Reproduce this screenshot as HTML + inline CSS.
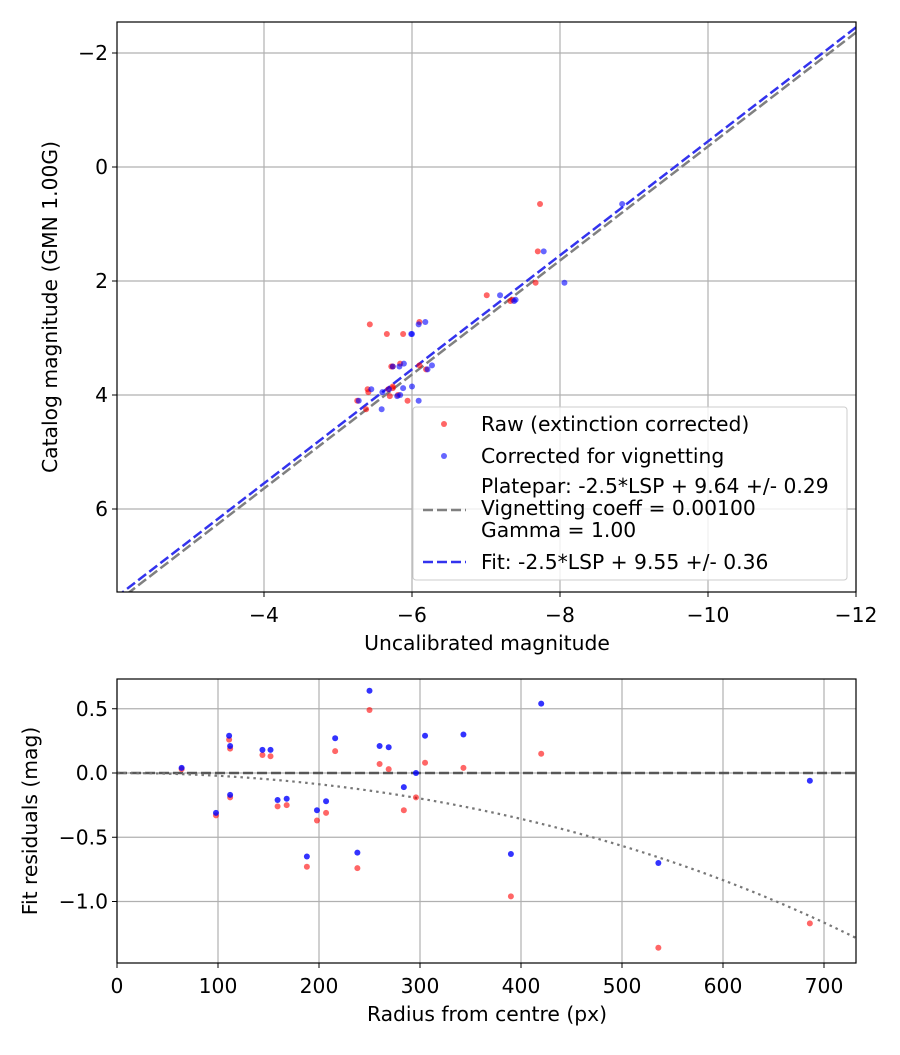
<!DOCTYPE html>
<html><head><meta charset="utf-8"><style>
body{margin:0;background:#fff}
svg text{font-family:"DejaVu Sans","Liberation Sans",sans-serif;fill:#000}
</style></head><body>
<svg id="c" width="900" height="1050" xmlns="http://www.w3.org/2000/svg">
<rect width="900" height="1050" fill="#fff"/>
<g id="top"></g>
<g id="bot"></g>
</svg>
<script>
const radius   = [64,98,111,112,112,144,152,159,168,188,198,207,216,238,250,260,269,284,296,305,343,390,420,536,686];
const resRaw   = [0.03,-0.33,0.26,0.19,-0.19,0.14,0.13,-0.26,-0.25,-0.73,-0.37,-0.31,0.17,-0.74,0.49,0.07,0.03,-0.29,-0.19,0.08,0.04,-0.96,0.15,-1.36,-1.17];
const resCorr  = [0.04,-0.31,0.29,0.21,-0.17,0.18,0.18,-0.21,-0.20,-0.65,-0.29,-0.22,0.27,-0.62,0.64,0.21,0.20,-0.11,0.00,0.29,0.30,-0.63,0.54,-0.70,-0.06];
const catMag   = [3.9,3.5,4.0,3.55,4.1,2.33,2.35,3.45,3.9,2.72,1.48,3.5,4.02,2.93,4.1,3.88,3.48,2.25,3.95,4.25,3.85,2.93,2.03,2.76,0.65];
const fitC = 9.55, plateC = 9.64;
const topXTicks = [-4,-6,-8,-10,-12];
const topYTicks = [-2,0,2,4,6];
const botXTicks = [0,100,200,300,400,500,600,700];
const botYTicks = [0.5,0.0,-0.5,-1.0];
const botYLabels = ["0.5","0.0","−0.5","−1.0"];

const NS="http://www.w3.org/2000/svg";
function mk(p,t,a){const e=document.createElementNS(NS,t);for(const k in a)e.setAttribute(k,a[k]);p.appendChild(e);return e;}
const fmt=v=>(v<0?"−":"")+Math.abs(v);
const FS=20.3;

// ---------- top ----------
const T=document.getElementById('top');
const tL=117,tR=856,tT=22,tB=592;
const tx=v=>116+(-2-v)*74;
const ty=v=>167+v*57;
for(const v of topXTicks){
 const g=mk(T,'line',{x1:tx(v),x2:tx(v),y1:tT,y2:tB,stroke:'#b0b0b0','stroke-width':1.2});
 
 mk(T,'line',{x1:tx(v),x2:tx(v),y1:tB,y2:tB+5,stroke:'#000'});
 const t=mk(T,'text',{x:tx(v),y:tB+30,'text-anchor':'middle','font-size':FS});t.textContent=fmt(v);
 
}
for(const v of topYTicks){
 const g=mk(T,'line',{x1:tL,x2:tR,y1:ty(v),y2:ty(v),stroke:'#b0b0b0','stroke-width':1.2});
 
 mk(T,'line',{x1:tL-5,x2:tL,y1:ty(v),y2:ty(v),stroke:'#000'});
 const t=mk(T,'text',{x:tL-9,y:ty(v)+7,'text-anchor':'end','font-size':FS});t.textContent=fmt(v);
 
}
const defs=mk(document.getElementById('c'),'defs',{});
const cp=mk(defs,'clipPath',{id:'ct'});mk(cp,'rect',{x:tL,y:tT,width:tR-tL,height:tB-tT});
const cp2=mk(defs,'clipPath',{id:'cb'});mk(cp2,'rect',{x:117,y:679,width:739,height:284});
const TC=mk(T,'g',{'clip-path':'url(#ct)'});
let l1=mk(TC,'line',{x1:tx(-2),y1:ty(-2+plateC),x2:tx(-12.2),y2:ty(-12.2+plateC),stroke:'#808080','stroke-width':2.5,'stroke-dasharray':'10,4'});

let l2=mk(TC,'line',{x1:tx(-2),y1:ty(-2+fitC),x2:tx(-12.2),y2:ty(-12.2+fitC),stroke:'#3333ee','stroke-width':2.5,'stroke-dasharray':'10,4'});

for(let i=0;i<catMag.length;i++){
 const xr=catMag[i]-fitC-resRaw[i];
 const c=mk(TC,'circle',{cx:tx(xr),cy:ty(catMag[i]),r:3,fill:'#ff0000','fill-opacity':0.6});
 
}
for(let i=0;i<catMag.length;i++){
 const xc=catMag[i]-fitC-resCorr[i];
 const c=mk(TC,'circle',{cx:tx(xc),cy:ty(catMag[i]),r:3,fill:'#0000ff','fill-opacity':0.6});
 
}
mk(T,'rect',{x:tL,y:tT,width:tR-tL,height:tB-tT,fill:'none',stroke:'#000','stroke-width':1.2});
let t=mk(T,'text',{x:487,y:650,'text-anchor':'middle','font-size':FS});t.textContent='Uncalibrated magnitude';

t=mk(T,'text',{x:0,y:0,'text-anchor':'middle','font-size':FS,transform:'translate(57,307) rotate(-90)'});t.textContent='Catalog magnitude (GMN 1.00G)';

// legend
const L=mk(T,'g',{});

mk(L,'rect',{x:413,y:407,width:434,height:173,rx:3,fill:'#fff','fill-opacity':0.8,stroke:'#cccccc'});
mk(L,'circle',{cx:444,cy:424,r:3,fill:'#ff0000','fill-opacity':0.6});
t=mk(L,'text',{x:481,y:431,'font-size':FS});t.textContent='Raw (extinction corrected)';

mk(L,'circle',{cx:444,cy:456,r:3,fill:'#0000ff','fill-opacity':0.6});
t=mk(L,'text',{x:481,y:463,'font-size':FS});t.textContent='Corrected for vignetting';

mk(L,'line',{x1:423,x2:466,y1:510,y2:510,stroke:'#808080','stroke-width':2.5,'stroke-dasharray':'10,4'});
t=mk(L,'text',{x:481,y:493,'font-size':FS});t.textContent='Platepar: -2.5*LSP + 9.64 +/- 0.29';

t=mk(L,'text',{x:481,y:515,'font-size':FS});t.textContent='Vignetting coeff = 0.00100';
t=mk(L,'text',{x:481,y:537,'font-size':FS});t.textContent='Gamma = 1.00';
mk(L,'line',{x1:423,x2:466,y1:562,y2:562,stroke:'#3333ee','stroke-width':2.5,'stroke-dasharray':'10,4'});
t=mk(L,'text',{x:481,y:569,'font-size':FS});t.textContent='Fit: -2.5*LSP + 9.55 +/- 0.36';


// ---------- bottom ----------
const B=document.getElementById('bot');
const bL=117,bR=856,bT=679,bB=963;
const bx=v=>117+v*1.01;
const by=v=>773-v*128.5;
for(const v of botXTicks){
 const g=mk(B,'line',{x1:bx(v),x2:bx(v),y1:bT,y2:bB,stroke:'#b0b0b0','stroke-width':1.2});
 
 mk(B,'line',{x1:bx(v),x2:bx(v),y1:bB,y2:bB+5,stroke:'#000'});
 const t=mk(B,'text',{x:bx(v),y:bB+30,'text-anchor':'middle','font-size':FS});t.textContent=v;
 
}
botYTicks.forEach((v,i)=>{
 const g=mk(B,'line',{x1:bL,x2:bR,y1:by(v),y2:by(v),stroke:'#b0b0b0','stroke-width':1.2});
 
 mk(B,'line',{x1:bL-5,x2:bL,y1:by(v),y2:by(v),stroke:'#000'});
 const t=mk(B,'text',{x:bL-9,y:by(v)+7,'text-anchor':'end','font-size':FS});t.textContent=botYLabels[i];
 
});
const BC=mk(B,'g',{'clip-path':'url(#cb)'});
let z=mk(BC,'line',{x1:bL,x2:bR,y1:by(0),y2:by(0),stroke:'#444','stroke-width':2.5,'stroke-dasharray':'10,4','stroke-opacity':0.85});

let pts=[];for(let r=0;r<=740;r+=5)pts.push(bx(r)+','+by(10*Math.log10(Math.cos(r*0.001))));
z=mk(BC,'polyline',{points:pts.join(' '),fill:'none',stroke:'#777','stroke-width':2.2,'stroke-dasharray':'2.5,4'});

for(let i=0;i<radius.length;i++){
 const c=mk(BC,'circle',{cx:bx(radius[i]),cy:by(resRaw[i]),r:3,fill:'#ff0000','fill-opacity':0.6});
 
}
for(let i=0;i<radius.length;i++){
 const c=mk(BC,'circle',{cx:bx(radius[i]),cy:by(resCorr[i]),r:3,fill:'#0000ff','fill-opacity':0.8});
 
}
mk(B,'rect',{x:bL,y:bT,width:bR-bL,height:bB-bT,fill:'none',stroke:'#000','stroke-width':1.2});
t=mk(B,'text',{x:487,y:1021,'text-anchor':'middle','font-size':FS});t.textContent='Radius from centre (px)';

t=mk(B,'text',{x:0,y:0,'text-anchor':'middle','font-size':FS,transform:'translate(37,821) rotate(-90)'});t.textContent='Fit residuals (mag)';

</script>
</body></html>
